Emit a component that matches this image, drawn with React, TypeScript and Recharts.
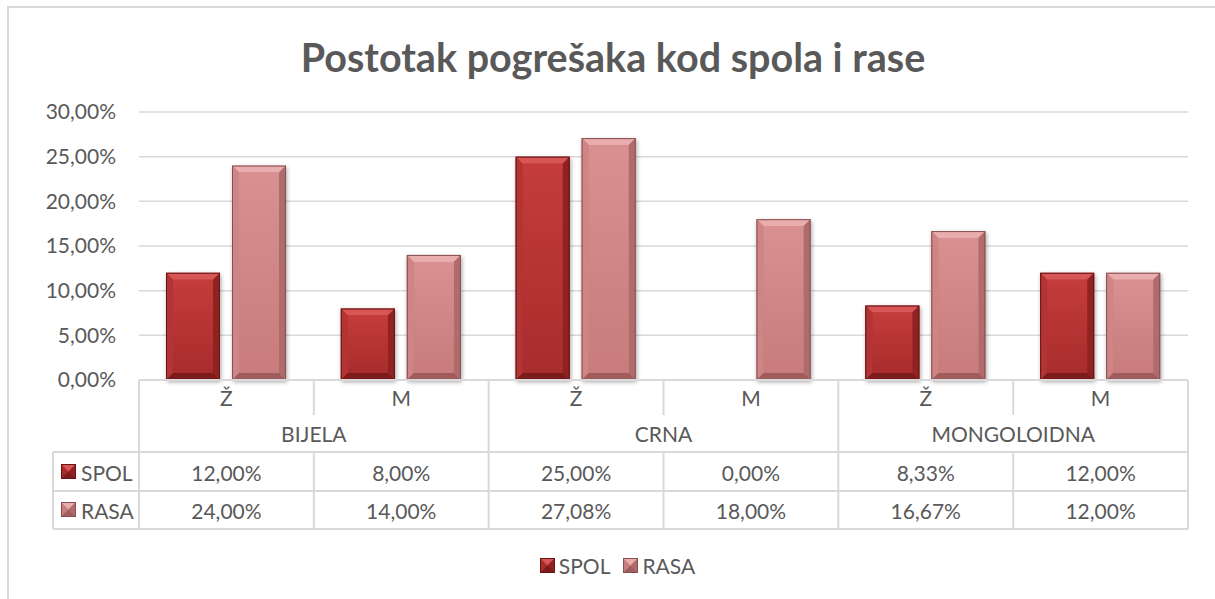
import React from 'react';
import { BarChart, Bar, XAxis, YAxis, CartesianGrid, Legend } from 'recharts';

const groups = ['BIJELA', 'CRNA', 'MONGOLOIDNA'];
const subCategories = ['Ž', 'M', 'Ž', 'M', 'Ž', 'M'];
const spolValues = [12.0, 8.0, 25.0, 0.0, 8.33, 12.0];
const rasaValues = [24.0, 14.0, 27.08, 18.0, 16.67, 12.0];
const yTicks = [0, 5, 10, 15, 20, 25, 30];
const seriesNames = ['SPOL', 'RASA'];
const title = 'Postotak pogrešaka kod spola i rase';

const data = subCategories.map((s, i) => ({
  key: `${groups[Math.floor(i / 2)]}-${s}-${i}`,
  sub: s,
  group: groups[Math.floor(i / 2)],
  SPOL: spolValues[i],
  RASA: rasaValues[i],
}));

const FONT = 'Lato, "Open Sans", sans-serif';
const TEXT = '#595959';
const LINE = '#D9D9D9';
const FS = 21;

const palette: Record<string, any> = {
  SPOL: { f1: '#C43C3C', f2: '#A92C2C', top: '#D85656', left: '#B23434', right: '#902222', bottom: '#7C1B1B', stroke: '#661414' },
  RASA: { f1: '#D89090', f2: '#C87C7C', top: '#EAADAD', left: '#CF8585', right: '#B06C6C', bottom: '#9E5C5C', stroke: '#875050' },
};

const fmt = (v: number) => v.toFixed(2).replace('.', ',') + '%';

const makeShape = (name: string) => (props: any) => {
  const { x, y, width: w, height: h } = props;
  if (!h || h <= 0.5) return <g />;
  const c = palette[name];
  const b = Math.min(7, w / 4, h / 2);
  return (
    <g style={{ filter: 'drop-shadow(1px 2px 2px rgba(0,0,0,0.35))' }}>
      <rect x={x} y={y} width={w} height={h} fill={c.f2} />
      <polygon points={`${x},${y} ${x + w},${y} ${x + w - b},${y + b} ${x + b},${y + b}`} fill={c.top} />
      <polygon points={`${x},${y} ${x + b},${y + b} ${x + b},${y + h - b} ${x},${y + h}`} fill={c.left} />
      <polygon points={`${x + w},${y} ${x + w},${y + h} ${x + w - b},${y + h - b} ${x + w - b},${y + b}`} fill={c.right} />
      <polygon points={`${x},${y + h} ${x + b},${y + h - b} ${x + w - b},${y + h - b} ${x + w},${y + h}`} fill={c.bottom} />
      <rect x={x + b} y={y + b} width={Math.max(0, w - 2 * b)} height={Math.max(0, h - 2 * b)} fill={`url(#face-${name})`} />
      <rect x={x + 0.5} y={y + 0.5} width={w - 1} height={h - 1} fill="none" stroke={c.stroke} strokeWidth={1} />
    </g>
  );
};

const Marker = ({ name, x, y }: { name: string; x: number; y: number }) => {
  const c = palette[name];
  const s = 15;
  return (
    <g>
      <rect x={x} y={y} width={s} height={s} fill={c.f2} />
      <polygon points={`${x},${y} ${x + s},${y} ${x + s / 2},${y + s / 2}`} fill={c.top} />
      <polygon points={`${x + s},${y} ${x + s},${y + s} ${x + s / 2},${y + s / 2}`} fill={c.right} />
      <polygon points={`${x},${y + s} ${x + s},${y + s} ${x + s / 2},${y + s / 2}`} fill={c.bottom} />
      <rect x={x + 0.5} y={y + 0.5} width={s - 1} height={s - 1} fill="none" stroke={c.stroke} strokeWidth={1} />
    </g>
  );
};

const TableTick = (props: any) => {
  const { x, y, payload } = props;
  const i: number = props.index ?? payload.index ?? 0;
  const half: number = payload.offset || 87.4;
  const left = x - half;
  const right = x + half;
  const r1 = 35;
  const r2 = 72;
  const r3 = 111;
  const r4 = 149;
  const d = data[i];
  const ls = { stroke: LINE, strokeWidth: 2 };
  const ts = { fontFamily: FONT, fontSize: FS, fill: TEXT, textAnchor: 'middle' as const, dominantBaseline: 'central' as const };
  const legLeft = 53;
  return (
    <g>
      {i % 2 === 0 ? (
        <line x1={left} y1={y} x2={left} y2={y + r4} {...ls} />
      ) : (
        <g>
          <line x1={left} y1={y} x2={left} y2={y + r1} {...ls} />
          <line x1={left} y1={y + r2} x2={left} y2={y + r4} {...ls} />
        </g>
      )}
      {i === data.length - 1 && <line x1={right} y1={y} x2={right} y2={y + r4} {...ls} />}
      <line x1={left} y1={y + r2} x2={right} y2={y + r2} {...ls} />
      <line x1={left} y1={y + r3} x2={right} y2={y + r3} {...ls} />
      <line x1={left} y1={y + r4} x2={right} y2={y + r4} {...ls} />
      <text x={x} y={y + 17} {...ts}>{d.sub}</text>
      {i % 2 === 0 && <text x={right} y={y + 53} {...ts}>{d.group}</text>}
      <text x={x} y={y + 92} {...ts}>{fmt(d.SPOL)}</text>
      <text x={x} y={y + 130} {...ts}>{fmt(d.RASA)}</text>
      {i === 0 && (
        <g>
          <line x1={legLeft} y1={y + r2} x2={left} y2={y + r2} {...ls} />
          <line x1={legLeft} y1={y + r3} x2={left} y2={y + r3} {...ls} />
          <line x1={legLeft} y1={y + r4} x2={left} y2={y + r4} {...ls} />
          <line x1={legLeft} y1={y + r2} x2={legLeft} y2={y + r4} {...ls} />
          {seriesNames.map((n, k) => (
            <g key={n}>
              <Marker name={n} x={legLeft + 8} y={y + (k === 0 ? 92 : 130) - 8} />
              <text x={legLeft + 28} y={y + (k === 0 ? 92 : 130)} {...ts} textAnchor="start">{n}</text>
            </g>
          ))}
        </g>
      )}
    </g>
  );
};

const LegendContent = () => (
  <div style={{ display: 'flex', justifyContent: 'center', alignItems: 'center', height: 24, fontFamily: FONT, fontSize: FS, color: TEXT }}>
    {seriesNames.map((n, k) => (
      <span key={n} style={{ display: 'flex', alignItems: 'center', marginLeft: k === 0 ? 0 : 12 }}>
        <svg width={17} height={17} style={{ marginRight: 3 }}>
          <Marker name={n} x={1} y={1} />
        </svg>
        {n}
      </span>
    ))}
  </div>
);

export default function App() {
  return (
    <div style={{ position: 'absolute', left: 0, top: 0, width: 1215, height: 599, overflow: 'hidden', background: '#fff' }}>
      <div style={{ position: 'absolute', left: 7, top: 6, width: 1400, height: 800, borderLeft: `2px solid ${LINE}`, borderTop: `2px solid ${LINE}` }} />
      <div style={{ position: 'absolute', left: 0, top: 33, width: 1226, textAlign: 'center', fontFamily: FONT, fontWeight: 700, fontSize: 39.5, color: TEXT, lineHeight: '48px' }}>
        {title}
      </div>
      <div style={{ position: 'absolute', left: 0, top: 0 }}>
        <BarChart
          width={1215}
          height={599}
          data={data}
          margin={{ top: 112, right: 27, bottom: 59, left: 39 }}
          barGap={12}
          barCategoryGap="15.7%"
        >
          <defs>
            {seriesNames.map((n) => (
              <linearGradient key={n} id={`face-${n}`} x1="0" y1="0" x2="0" y2="1">
                <stop offset="0%" stopColor={palette[n].f1} />
                <stop offset="100%" stopColor={palette[n].f2} />
              </linearGradient>
            ))}
          </defs>
          <CartesianGrid vertical={false} stroke={LINE} strokeWidth={1.5} />
          <YAxis
            width={100}
            domain={[0, 30]}
            ticks={yTicks}
            tickFormatter={fmt}
            axisLine={false}
            tickLine={false}
            tickSize={0}
            tickMargin={23}
            tick={{ fontFamily: FONT, fontSize: FS, fill: TEXT }}
          />
          <XAxis
            dataKey="key"
            height={160}
            interval={0}
            axisLine={{ stroke: LINE, strokeWidth: 2 }}
            tickLine={false}
            tickSize={0}
            tickMargin={0}
            tick={<TableTick />}
          />
          <Legend
            verticalAlign="middle"
            align="center"
            layout="horizontal"
            wrapperStyle={{ top: 553, left: 0, width: 1234, bottom: 'auto' }}
            content={<LegendContent />}
          />
          {seriesNames.map((n) => (
            <Bar key={n} dataKey={n} name={n} barSize={54} isAnimationActive={false} shape={makeShape(n)} fill={palette[n].f1} />
          ))}
        </BarChart>
      </div>
    </div>
  );
}
